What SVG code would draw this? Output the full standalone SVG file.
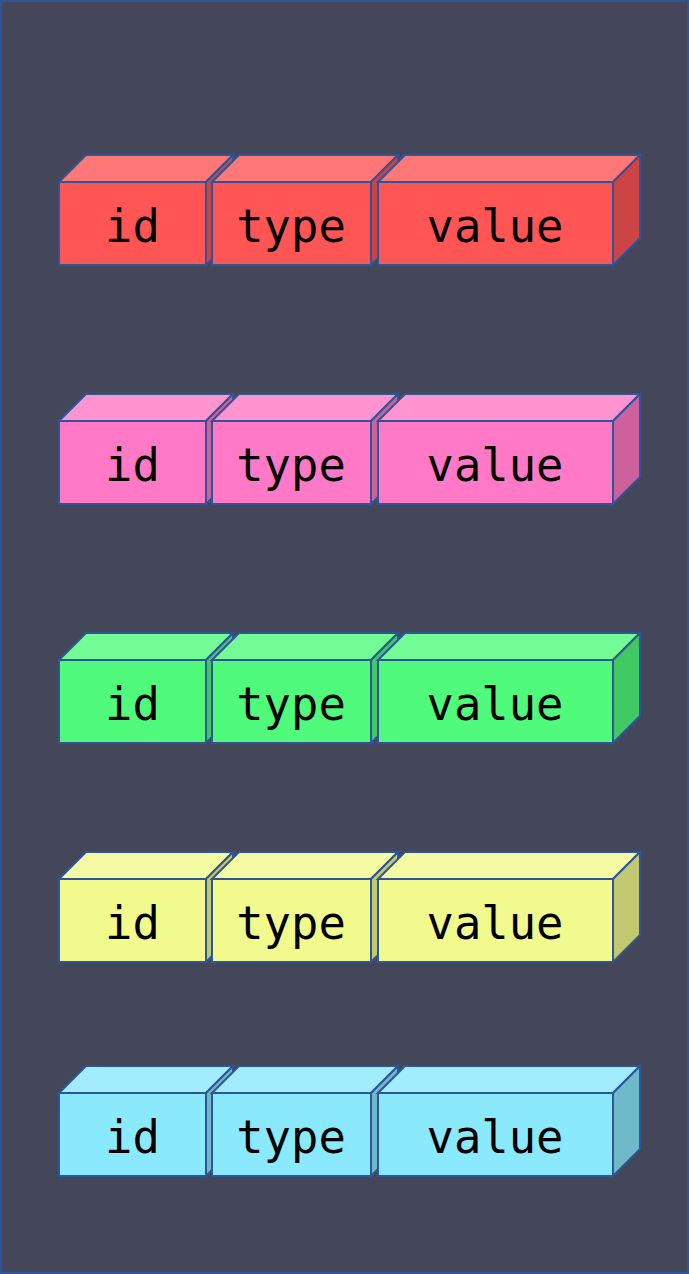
<svg xmlns="http://www.w3.org/2000/svg" width="689" height="1274" viewBox="0 0 689 1274">
<style>
.s{stroke:#2F5597;stroke-width:2;stroke-linejoin:miter}
.t{font-family:"DejaVu Sans Mono","Liberation Mono",monospace;font-size:45.5px;fill:#000;text-anchor:middle}
.f{fill:var(--f)}.u{fill:var(--u)}.d{fill:var(--d)}
.r{--f:#FF5555;--u:#FF7777;--d:#CC4444}
.p{--f:#FF79C6;--u:#FF94D1;--d:#CC619E}
.g{--f:#50FA7B;--u:#73FB95;--d:#40C862}
.y{--f:#F1FA8C;--u:#F4FBA3;--d:#C1C870}
.c{--f:#8BE9FD;--u:#A2EDFD;--d:#6FBACA}
</style>
<defs>
<g id="cid">
<polygon class="s u" points="59,0 86,-27 233,-27 206,0"/>
<polygon class="s d" points="206,0 233,-27 233,56 206,83"/>
<rect class="s f" x="59" y="0" width="147" height="83"/>
<text class="t" x="132.5" y="59.5">id</text>
</g>
<g id="ctype">
<polygon class="s u" points="212,0 239,-27 398,-27 371,0"/>
<polygon class="s d" points="371,0 398,-27 398,56 371,83"/>
<rect class="s f" x="212" y="0" width="159" height="83"/>
<text class="t" x="291" y="59.5">type</text>
</g>
<g id="cvalue">
<polygon class="s u" points="378,0 405,-27 640,-27 613,0"/>
<polygon class="s d" points="613,0 640,-27 640,56 613,83"/>
<rect class="s f" x="378" y="0" width="235" height="83"/>
<text class="t" x="495" y="59.5">value</text>
</g>
</defs>
<rect x="1" y="1" width="687" height="1272" fill="#44475A" stroke="#2F5597" stroke-width="2"/>
<g id="row1" class="r" transform="translate(0,182)">
<g id="r1-id"><use href="#cid"/></g>
<g id="r1-type"><use href="#ctype"/></g>
<g id="r1-value"><use href="#cvalue"/></g>
</g>
<g id="row2" class="p" transform="translate(0,421)">
<g id="r2-id"><use href="#cid"/></g>
<g id="r2-type"><use href="#ctype"/></g>
<g id="r2-value"><use href="#cvalue"/></g>
</g>
<g id="row3" class="g" transform="translate(0,660)">
<g id="r3-id"><use href="#cid"/></g>
<g id="r3-type"><use href="#ctype"/></g>
<g id="r3-value"><use href="#cvalue"/></g>
</g>
<g id="row4" class="y" transform="translate(0,879)">
<g id="r4-id"><use href="#cid"/></g>
<g id="r4-type"><use href="#ctype"/></g>
<g id="r4-value"><use href="#cvalue"/></g>
</g>
<g id="row5" class="c" transform="translate(0,1093)">
<g id="r5-id"><use href="#cid"/></g>
<g id="r5-type"><use href="#ctype"/></g>
<g id="r5-value"><use href="#cvalue"/></g>
</g>
<g id="connectors"/>
</svg>
